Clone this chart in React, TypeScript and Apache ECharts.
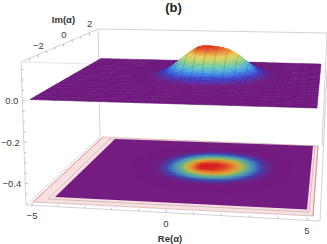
import React, { useEffect, useRef } from "react";
import * as echarts from "echarts";

// ---- axis ticks and labels
const reTicks = [-5, -4, -3, -2, -1, 0, 1, 2, 3, 4, 5];
const reLabels = [-5, 0, 5];
const imTicks = [-2.67, -2, -1.33, -0.67, 0, 0.67, 1.33, 2];
const imLabels = [-2, 0, 2];
const zTicks = [0.15, 0.1, 0.05, 0, -0.05, -0.1, -0.15, -0.2, -0.25, -0.3, -0.35, -0.4, -0.45];
const zLabels = [0, -0.2, -0.4];

// ---- surface heights: one row per Im node (front to back), one column per Re node
const reNodes = 25;
const imNodes = 17;
const heightRows: number[][] = [
  [0,0,0,0,0,0,0,0,0,0,0,0,0,0,0,0,0,0,0,0,0,0,0,0,0],
  [0,0,0,0,0,0,0,0,0,0,0,0,0,0,0,0,0,0,0,0,0,0,0,0,0],
  [0,0,0,0,0,0,0,0,0,0,0,0,0,0,0,0,0,0,0,0,0,0,0,0,0],
  [0,0,0,0,0,0,0,0,0,0,0,0,0,0,0,0,0,0,0,0,0,0,0,0,0],
  [0,0,0,0,0,0,0,0,0,0,0,0,0,0,0,0,0,0,0,0,0,0,0,0,0],
  [0,0,0,0,0,0,0,0,0,0,0,0,0,0,0,0,0,0,0,0,0,0,0,0,0],
  [0,0,0,0,0,0,0,0,0,0,0,0.001,0.002,0.004,0.004,0.003,0.001,0,0,0,0,0,0,0,0],
  [0,0,0,0,0,0,0,0,0,0.001,0.006,0.013,0.022,0.027,0.027,0.022,0.012,0.005,0.001,0,0,0,0,0,0],
  [0,0,0,0,0,0,0,0,0.001,0.008,0.024,0.05,0.074,0.086,0.085,0.073,0.047,0.021,0.006,0.001,0,0,0,0,0],
  [0,0,0,0,0,0,0,0,0.004,0.02,0.052,0.093,0.124,0.136,0.133,0.118,0.086,0.045,0.015,0.003,0,0,0,0,0],
  [0,0,0,0,0,0,0,0.001,0.007,0.028,0.07,0.116,0.152,0.155,0.149,0.136,0.106,0.06,0.021,0.004,0,0,0,0,0],
  [0,0,0,0,0,0,0,0.001,0.006,0.026,0.066,0.112,0.147,0.153,0.148,0.134,0.102,0.056,0.019,0.004,0,0,0,0,0],
  [0,0,0,0,0,0,0,0,0.003,0.016,0.045,0.084,0.113,0.125,0.122,0.106,0.077,0.038,0.012,0.002,0,0,0,0,0],
  [0,0,0,0,0,0,0,0,0.001,0.005,0.018,0.039,0.06,0.068,0.066,0.054,0.034,0.015,0.003,0,0,0,0,0,0],
  [0,0,0,0,0,0,0,0,0,0.001,0.003,0.008,0.015,0.018,0.017,0.013,0.007,0.002,0,0,0,0,0,0,0],
  [0,0,0,0,0,0,0,0,0,0,0,0.001,0.001,0.002,0.002,0.001,0,0,0,0,0,0,0,0,0],
  [0,0,0,0,0,0,0,0,0,0,0,0,0,0,0,0,0,0,0,0,0,0,0,0,0],
];
const peak = 0.155;
const surfaceTop = 0.16;

// ---- colours
const surfaceStops = ["#721a80", "#3d3cc8", "#3b7ee8", "#58b8d8", "#7fd0a0", "#c0da70", "#f0d060", "#f08a38", "#e02a20"];
const densityStops = ["#751c80", "#3f4ab0", "#4683c1", "#57a3ad", "#6db388", "#b1be4e", "#dfa53a", "#e7742f", "#d92120"];

function hex(c: string) {
  return [parseInt(c.slice(1, 3), 16), parseInt(c.slice(3, 5), 16), parseInt(c.slice(5, 7), 16)];
}
function ramp(stops: string[], t: number) {
  const k = Math.max(0, Math.min(0.9999, t)) * (stops.length - 1);
  const n = Math.floor(k);
  const a = hex(stops[n]);
  const b = hex(stops[n + 1]);
  const f = k - n;
  return `rgb(${Math.round(a[0] + (b[0] - a[0]) * f)},${Math.round(a[1] + (b[1] - a[1]) * f)},${Math.round(a[2] + (b[2] - a[2]) * f)})`;
}

// ---- view: four screen corners of each plane (front-left, front-right, back-right, back-left)
type P = number[];
function homography(q: P[]) {
  const [p00, p10, p11, p01] = q;
  const dx1 = p10[0] - p11[0], dx2 = p01[0] - p11[0], sx = p00[0] - p10[0] + p11[0] - p01[0];
  const dy1 = p10[1] - p11[1], dy2 = p01[1] - p11[1], sy = p00[1] - p10[1] + p11[1] - p01[1];
  const den = dx1 * dy2 - dx2 * dy1;
  const g = (sx * dy2 - dx2 * sy) / den, h = (dx1 * sy - sx * dy1) / den;
  const a = p10[0] - p00[0] + g * p10[0], b = p01[0] - p00[0] + h * p01[0], c = p00[0];
  const d = p10[1] - p00[1] + g * p10[1], e = p01[1] - p00[1] + h * p01[1], f = p00[1];
  return (u: number, v: number) => {
    const w = g * u + h * v + 1;
    return [(a * u + b * v + c) / w, (d * u + e * v + f) / w, w];
  };
}
const floorCorners: P[] = [[55, 197], [307, 209.5], [313, 146], [115, 139]];
const topPlane = homography([[30, 99.5], [317, 108], [321, 64], [101, 58.5]]);
const floorPlane = homography(floorCorners);
const zPixels = 205;

function catmull(a: number, b: number, c: number, d: number, t: number) {
  return 0.5 * (2 * b + (c - a) * t + (2 * a - 5 * b + 4 * c - d) * t * t + (3 * b - a - 3 * c + d) * t * t * t);
}
function cell(i: number, j: number) {
  const r = heightRows[Math.max(0, Math.min(imNodes - 1, j))];
  return r[Math.max(0, Math.min(reNodes - 1, i))];
}
function heightAt(fi: number, fj: number) {
  const i = Math.min(reNodes - 2, Math.floor(fi));
  const j = Math.min(imNodes - 2, Math.floor(fj));
  const tx = fi - i, ty = fj - j;
  const row = (jj: number) => catmull(cell(i - 1, jj), cell(i, jj), cell(i + 1, jj), cell(i + 2, jj), tx);
  return Math.max(0, catmull(row(j - 1), row(j), row(j + 1), row(j + 2), ty));
}
function surfacePoint(fi: number, fj: number) {
  const p = topPlane(fi / (reNodes - 1), fj / (imNodes - 1));
  return [p[0], p[1] - (heightAt(fi, fj) * zPixels) / p[2]];
}
// the density image on the floor sits slightly differently inside its frame than the surface above it
function floorPoint(fi: number, fj: number) {
  const ci = 13.3, cj = 10.4;
  const p = floorPlane((ci + (fi - ci) * 1.08 + 0.3) / (reNodes - 1), (cj + (fj - cj) * 1.0 - 1.5) / (imNodes - 1));
  return [p[0], p[1]];
}
function isFlat(i: number, j: number) {
  return !(cell(i, j) || cell(i + 1, j) || cell(i, j + 1) || cell(i + 1, j + 1) ||
    cell(i - 1, j) || cell(i + 2, j) || cell(i, j - 1) || cell(i, j + 2) ||
    cell(i + 1, j - 1) || cell(i + 1, j + 2) || cell(i - 1, j + 1) || cell(i + 2, j + 1));
}

const cellRows: number[][] = [];
for (let j = imNodes - 2; j >= 0; j--) for (let i = 0; i < reNodes - 1; i++) cellRows.push([i, j, heightRows[j][i]]);

function quad(pt: (a: number, b: number) => number[], a: number, b: number, da: number, db: number, fill: string) {
  return {
    type: "polygon",
    shape: { points: [pt(a, b), pt(a + da, b), pt(a + da, b + db), pt(a, b + db)] },
    style: { fill, stroke: fill, lineWidth: 0.5 },
  };
}
function renderDensity(_: any, api: any) {
  const i = api.value(0), j = api.value(1);
  if (isFlat(i, j)) return null;
  const children: any[] = [];
  const nx = 7, ny = 5;
  for (let b = 0; b < ny; b++) for (let a = 0; a < nx; a++) {
    const h = heightAt(i + (a + 0.5) / nx, j + (b + 0.5) / ny);
    children.push(quad(floorPoint, i + a / nx, j + b / ny, 1 / nx, 1 / ny, ramp(densityStops, h / peak)));
  }
  return { type: "group", children };
}
function renderSurface(_: any, api: any) {
  const i = api.value(0), j = api.value(1);
  const flat = isFlat(i, j);
  const children: any[] = [];
  const nx = flat ? 1 : 5, ny = flat ? 1 : 5;
  for (let b = 0; b < ny; b++) for (let a = 0; a < nx; a++) {
    const h = heightAt(i + (a + 0.5) / nx, j + (b + 0.5) / ny);
    children.push(quad(surfacePoint, i + a / nx, j + b / ny, 1 / nx, 1 / ny, ramp(surfaceStops, h / surfaceTop)));
  }
  const meshColor = flat ? "rgba(55,15,70,0.45)" : "rgba(55,55,60,0.42)";
  const edge = (pts: number[][]) => ({ type: "polyline", shape: { points: pts }, style: { stroke: meshColor, lineWidth: 0.55, fill: "none" } });
  const along: number[][] = [], side: number[][] = [];
  for (let t = 0; t <= nx; t++) along.push(surfacePoint(i + t / nx, j));
  for (let t = 0; t <= ny; t++) side.push(surfacePoint(i, j + t / ny));
  children.push(edge(along), edge(side));
  return { type: "group", children };
}

// ---- box and floor frame (layout of the 3D frame)
const line = (a: P, b: P, stroke = "#d4d4d4", lineWidth = 1) => ({
  type: "line",
  shape: { x1: a[0], y1: a[1], x2: b[0], y2: b[1] },
  style: { stroke, lineWidth },
});
const poly = (points: P[], fill: string, stroke = "none", lineWidth = 1) => ({
  type: "polygon",
  shape: { points },
  style: { fill, stroke, lineWidth },
});
function renderBackFrame() {
  return {
    type: "group",
    children: [
      line([98, 29], [327, 33]),
      line([21, 62], [98, 29]),
      line([21, 62], [327, 71], "#e6e6e6"),
      line([98, 29], [100, 137]),
      line([21, 62], [26, 205]),
      line([26, 205], [320, 221]),
      line([26, 205], [100, 137], "#d8d8d8"),
      line([327, 33], [322, 146]),
      line([327, 71], [320, 221]),
      poly([[33, 202], [103, 137], [318, 146], [313, 216]], "#f9e0e0", "#d8b8b8", 0.8),
      line([33, 202], [103, 137], "#e89090", 0.9),
      line([318, 146], [313, 216], "#d89090", 0.9),
      poly([[48, 199], [110, 139], [315, 146], [309, 212]], "none", "#c8b4b8", 0.8),
      poly(floorCorners, densityStops[0]),
    ],
  };
}
const reX = (re: number) => {
  const u = (re + 5) / 10;
  return 32 + (275 * u * 0.95) / (1 - 0.05 * u);
};
const onBottom = (x: number) => 205 + ((x - 26) * 16) / 294;
const imX = (im: number) => 63.5 + 12.8 * im;
const onTopLeft = (x: number) => 62 - ((x - 21) * 33) / 77;
const zY = (z: number) => 100.7 - z * 207.5;
const onLeft = (y: number) => 21 + ((y - 62) * 5) / 143;
function renderTicks() {
  const children: any[] = [];
  const c = "#a8a8a8";
  reTicks.forEach((t) => {
    const x = reX(t), y = onBottom(x), m = reLabels.includes(t);
    children.push(line([x, y], [x + 0.2, y - (m ? 3 : 2)], c, 0.8));
  });
  imTicks.forEach((t) => {
    const x = imX(t), y = onTopLeft(x), m = imLabels.includes(t);
    children.push(line([x, y], [x + 0.4, y + (m ? 3 : 2)], c, 0.8));
  });
  zTicks.forEach((t) => {
    const y = zY(t), x = onLeft(y), m = zLabels.includes(t);
    children.push(line([x, y], [x + (m ? 3 : 2), y], c, 0.8));
  });
  return { type: "group", children };
}

const sans = '"Liberation Sans", Arial, sans-serif';
const label = (text: string, x: number, y: number, align = "center", font = `9.5px ${sans}`, fill = "#3c3c3c") => ({
  type: "text",
  silent: true,
  style: { text, x, y, font, fill, textAlign: align, textVerticalAlign: "middle" },
});
const fmtSigned = (v: number, d = 0) => (v < 0 ? "\u2212" : "") + Math.abs(v).toFixed(d);

export default function App() {
  const ref = useRef<HTMLDivElement>(null);
  useEffect(() => {
    document.body.style.margin = "0";
    const chart = echarts.init(ref.current!, undefined, { renderer: "svg", width: 327, height: 244 });
    chart.setOption({
      animation: false,
      backgroundColor: "#ffffff",
      series: [
        { type: "custom", name: "frame", coordinateSystem: "none", z: 1, silent: true, data: [[0]], renderItem: renderBackFrame },
        { type: "custom", name: "density", coordinateSystem: "none", z: 2, silent: true, progressive: 0, data: cellRows, renderItem: renderDensity },
        { type: "custom", name: "surface", coordinateSystem: "none", z: 3, silent: true, progressive: 0, data: cellRows, renderItem: renderSurface },
        { type: "custom", name: "ticks", coordinateSystem: "none", z: 4, silent: true, data: [[0]], renderItem: renderTicks },
      ],
      graphic: [
        label("(b)", 173.5, 7.5, "center", `bold 13px ${sans}`, "#222222"),
        label("Im(\u03b1)", 63.5, 19, "center", `bold 9.5px ${sans}`, "#333333"),
        label("Re(\u03b1)", 170, 238, "center", `bold 9.5px ${sans}`, "#333333"),
        ...imLabels.map((t) => label(fmtSigned(t), imX(t) + 0.5, onTopLeft(imX(t)) - 9.5)),
        ...reLabels.map((t) => label(fmtSigned(t), reX(t), onBottom(reX(t)) + 10.5)),
        ...zLabels.map((t) => label(fmtSigned(t, 1), onLeft(zY(t)) - 4, zY(t), "right")),
      ],
    });
    return () => chart.dispose();
  }, []);
  return <div ref={ref} style={{ width: 327, height: 244 }} />;
}
